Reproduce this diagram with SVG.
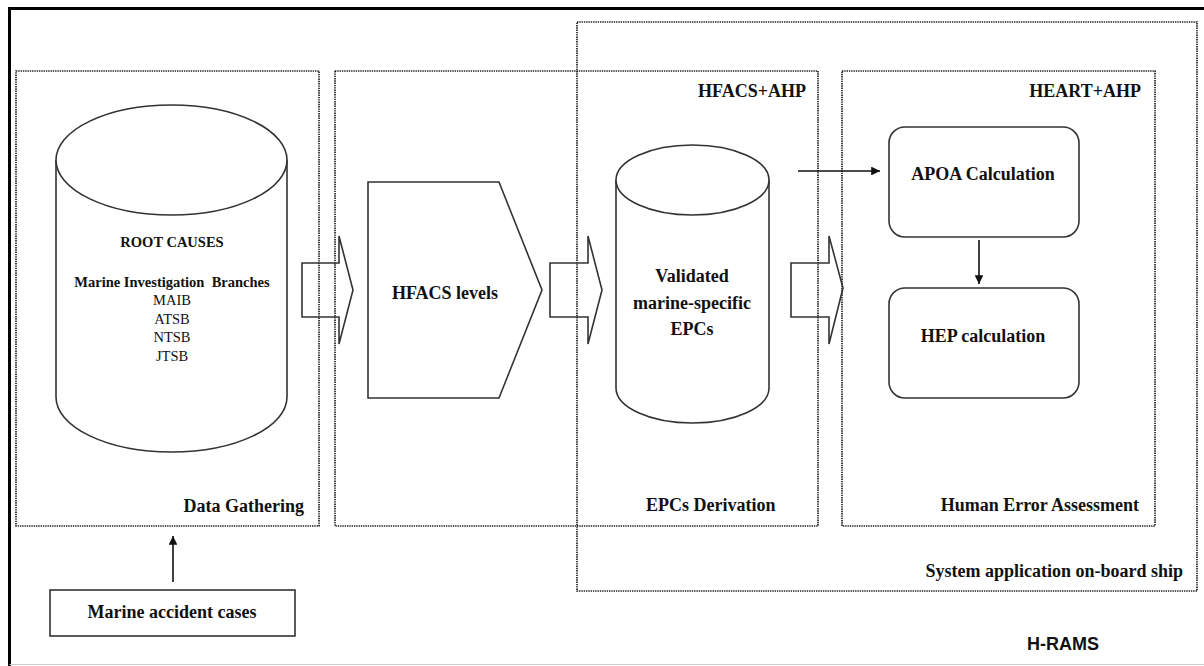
<svg xmlns="http://www.w3.org/2000/svg" width="1204" height="666" viewBox="0 0 1204 666">
  <style>
    .frame { fill: none; stroke: #000; stroke-width: 3; }
    .zone { fill: none; stroke: #222; stroke-width: 1.7; stroke-dasharray: 1.4 0.9; }
    .shape { fill: #fff; stroke: #333; stroke-width: 1.6; }
    .hollow { fill: none; stroke: #333; stroke-width: 1.6; stroke-linejoin: miter; }
    .link { fill: none; stroke: #111; stroke-width: 1.6; }
    .t { font-family: "Liberation Serif", "Times New Roman", serif; font-weight: bold; font-size: 18px; fill: #111; }
    .ts { font-family: "Liberation Serif", "Times New Roman", serif; font-weight: bold; font-size: 14.5px; fill: #111; }
    .tr { font-family: "Liberation Serif", "Times New Roman", serif; font-size: 14.5px; fill: #111; }
    .sans { font-family: "Liberation Sans", Arial, sans-serif; font-weight: bold; font-size: 18px; fill: #111; }
  </style>
  <defs>
    <marker id="head" viewBox="0 0 10 10" refX="10" refY="5" markerWidth="5.5" markerHeight="5.5" orient="auto" markerUnits="strokeWidth">
      <path d="M0,0 L10,5 L0,10 z" fill="#111"/>
    </marker>
  </defs>

  <rect width="1204" height="666" fill="#fff"/>

  <!-- outer frame -->
  <g id="frame">
    <line class="frame" x1="9.5" y1="8.5" x2="1204" y2="8.5"/>
    <line class="frame" x1="9.5" y1="7" x2="9.5" y2="666"/>
    <line x1="9.5" y1="664.5" x2="1204" y2="664.5" stroke="#ccc" stroke-width="1"/>
  </g>

  <!-- dotted stage zones -->
  <g id="zone-onboard">
    <rect class="zone" x="577" y="22" width="620" height="569"/>
    <text class="t" x="1183" y="577" text-anchor="end">System application on-board ship</text>
  </g>
  <g id="zone-data">
    <rect class="zone" x="16" y="71" width="303" height="455"/>
    <text class="t" x="304" y="512" text-anchor="end">Data Gathering</text>
  </g>
  <g id="zone-epcs">
    <rect class="zone" x="335" y="71" width="483" height="455"/>
    <text class="t" x="806" y="97" text-anchor="end">HFACS+AHP</text>
    <text class="t" x="646" y="511">EPCs Derivation</text>
  </g>
  <g id="zone-hea">
    <rect class="zone" x="842" y="71" width="313" height="455"/>
    <text class="t" x="1141" y="97" text-anchor="end">HEART+AHP</text>
    <text class="t" x="1139" y="511" text-anchor="end">Human Error Assessment</text>
  </g>

  <!-- root causes database -->
  <g id="root-causes">
    <path class="shape" d="M56,160 L56,397 A115.5,55 0 0 0 287,397 L287,160"/>
    <ellipse class="shape" cx="171.5" cy="160" rx="115.5" ry="55"/>
    <text class="ts" x="172" y="247" text-anchor="middle">ROOT CAUSES</text>
    <text class="ts" x="172" y="287" text-anchor="middle" xml:space="preserve">Marine Investigation  Branches</text>
    <text class="tr" x="172" y="305" text-anchor="middle">MAIB</text>
    <text class="tr" x="172" y="324" text-anchor="middle">ATSB</text>
    <text class="tr" x="172" y="342" text-anchor="middle">NTSB</text>
    <text class="tr" x="172" y="361" text-anchor="middle">JTSB</text>
  </g>

  <!-- HFACS levels -->
  <g id="hfacs-levels">
    <polygon class="shape" points="368,182 499,182 542,290 499,398 368,398"/>
    <text class="t" x="445" y="299" text-anchor="middle">HFACS levels</text>
  </g>

  <!-- validated EPCs database -->
  <g id="epcs">
    <path class="shape" d="M616,180 L616,388 A76.5,35 0 0 0 769,388 L769,180"/>
    <ellipse class="shape" cx="692.5" cy="180" rx="76.5" ry="35"/>
    <text class="t" x="692" y="282" text-anchor="middle">Validated</text>
    <text class="t" x="692" y="309" text-anchor="middle">marine-specific</text>
    <text class="t" x="692" y="335" text-anchor="middle">EPCs</text>
  </g>

  <!-- HEART steps -->
  <g id="apoa">
    <rect class="shape" x="889" y="127" width="190" height="110" rx="16"/>
    <text class="t" x="983" y="180" text-anchor="middle">APOA Calculation</text>
  </g>
  <g id="hep">
    <rect class="shape" x="889" y="288" width="190" height="110" rx="16"/>
    <text class="t" x="983" y="342" text-anchor="middle">HEP calculation</text>
  </g>

  <!-- input cases -->
  <g id="cases">
    <rect class="shape" x="50" y="590" width="245" height="46"/>
    <text class="t" x="172" y="618" text-anchor="middle">Marine accident cases</text>
  </g>

  <!-- connectors -->
  <g id="connectors">
    <path class="hollow" d="M302,263 H339 V236 L353,290 L339,344 V317 H302 Z"/>
    <path class="hollow" d="M550,263 H588 V236 L602,290 L588,344 V317 H550 Z"/>
    <path class="hollow" d="M791,263 H829 V236 L843,288 L829,344 V317 H791 Z"/>
    <line class="link" x1="798" y1="171" x2="880" y2="171" marker-end="url(#head)"/>
    <line class="link" x1="979" y1="240" x2="979" y2="284" marker-end="url(#head)"/>
    <line class="link" x1="173" y1="582" x2="173" y2="536" marker-end="url(#head)"/>
  </g>

  <text class="sans" x="1027" y="650">H-RAMS</text>
</svg>
